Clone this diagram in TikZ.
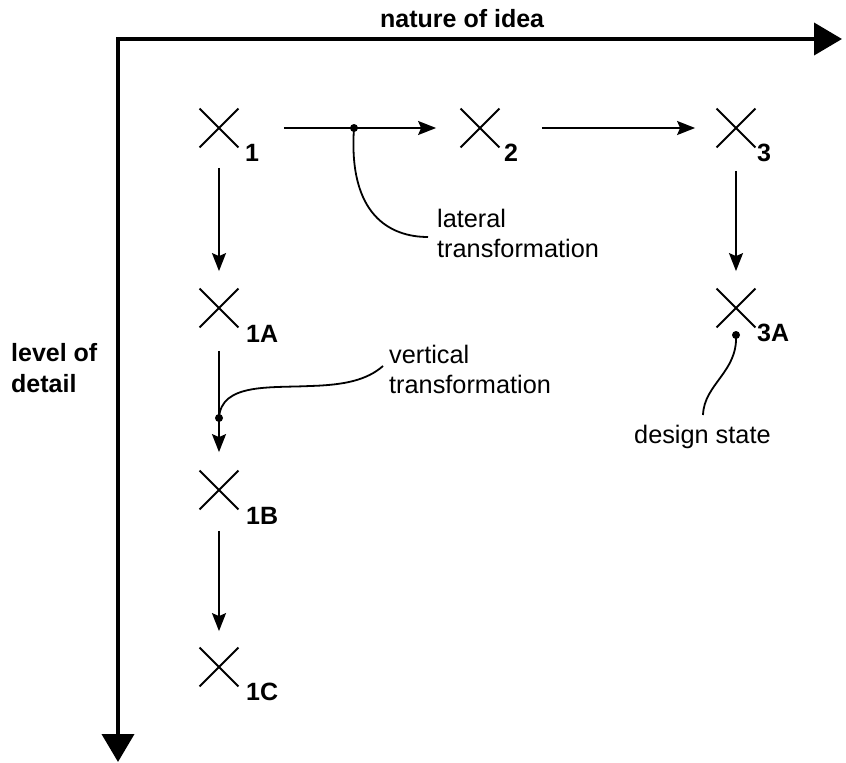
\documentclass[tikz,border=0pt]{standalone}
\usepackage{fontspec}
\setmainfont{Liberation Sans}
\usetikzlibrary{arrows.meta,shapes.misc}
\tikzset{
  xmark/.style={cross out,draw,line width=1.8pt,minimum size=37pt,inner sep=0pt},
  lbl/.style={font=\bfseries\fontsize{25}{29}\selectfont,anchor=base west,inner sep=0pt},
  txt/.style={font=\fontsize{25.3}{30}\selectfont,align=left,anchor=north west,inner sep=0pt},
  axislbl/.style={font=\bfseries\fontsize{25}{31}\selectfont,align=left,inner sep=0pt},
  arr/.style={line width=1.8pt,-{Stealth[length=18pt,width=14pt,inset=3pt]}},
  axis/.style={line width=4pt,line join=miter,{Triangle[length=28pt,width=32pt]}-{Triangle[length=28pt,width=32pt]}},
  lead/.style={line width=1.8pt},
  dot/.style={fill=black}
}
\begin{document}
\begin{tikzpicture}[x=1pt,y=-1pt]
\useasboundingbox (0,0) rectangle (846,763);
% axes
\coordinate (xend) at (842,39);
\coordinate (origin) at (118,39);
\coordinate (yend) at (118,762);
\draw[axis] (xend) -- (origin) -- (yend);
\node[axislbl,anchor=base west] (nat) at (380,27) {nature of idea};
\node[axislbl,anchor=north west] (lev) at (11,343) {level of\\detail};
% design states
\node[xmark] (n1) at (219,128) {};
\node[xmark] (n2) at (480,128) {};
\node[xmark] (n3) at (736,128) {};
\node[xmark] (n1A) at (219,308) {};
\node[xmark] (n3A) at (736,308) {};
\node[xmark] (n1B) at (219,490) {};
\node[xmark] (n1C) at (219,667) {};
\node[lbl] (l1) at (245,161) {1};
\node[lbl] (l2) at (504,161) {2};
\node[lbl] (l3) at (757,161) {3};
\node[lbl] (l1A) at (246,342) {1A};
\node[lbl] (l3A) at (757,341) {3A};
\node[lbl] (l1B) at (246,524) {1B};
\node[lbl] (l1C) at (246,700) {1C};
% transformations
\draw[arr,shorten <=45.5pt,shorten >=24.5pt] (n1) -- (n2);
\draw[arr,shorten <=42.5pt,shorten >=21.5pt] (n2) -- (n3);
\draw[arr,shorten <=20.5pt,shorten >=17.5pt] (n1) -- (n1A);
\draw[arr,shorten <=23.5pt,shorten >=17.5pt] (n3) -- (n3A);
\draw[arr,shorten <=23.5pt,shorten >=18.5pt] (n1A) -- (n1B);
\draw[arr,shorten <=21.5pt,shorten >=16.5pt] (n1B) -- (n1C);
% annotations
\node[txt] (lat) at (437,209) {lateral\\transformation};
\node[txt] (ver) at (389,345) {vertical\\transformation};
\node[txt,anchor=base west] (des) at (634,443) {design state};
\coordinate (d1) at (354,128);
\coordinate (d2) at (219,418);
\coordinate (d3) at (736,335);
\coordinate (e1) at (428,237);
\coordinate (e2) at (383,366);
\coordinate (e3) at (703,415);
\draw[lead] (d1) .. controls (348,215) and (390,237) .. (e1);
\draw[lead] (d2) .. controls (221,383) and (270,388) .. (310,386) .. controls (345,385) and (367,380) .. (e2);
\draw[lead] (d3) .. controls (738,372) and (704,384) .. (e3);
\fill[dot] (d1) circle[radius=4pt];
\fill[dot] (d2) circle[radius=4pt];
\fill[dot] (d3) circle[radius=4pt];
\end{tikzpicture}
\end{document}
